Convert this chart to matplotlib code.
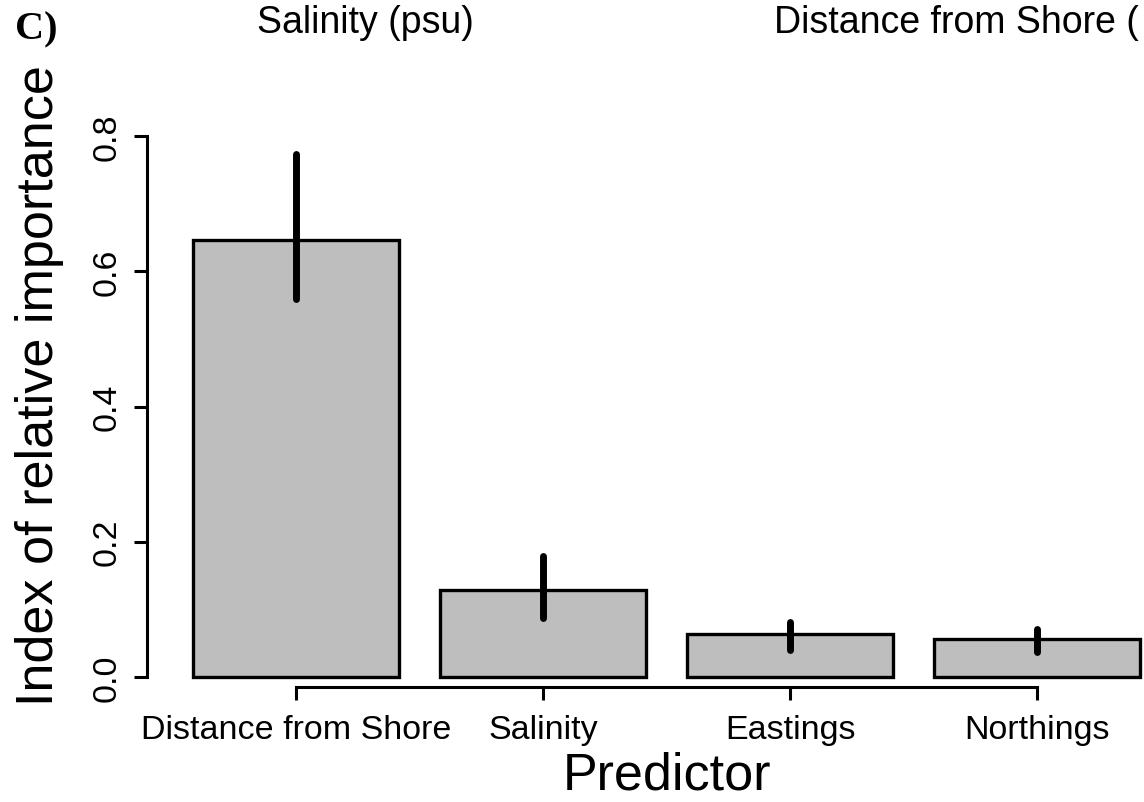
import matplotlib
matplotlib.use("Agg")
import matplotlib.pyplot as plt

predictors = ["Distance from Shore", "Salinity", "Eastings", "Northings"]
importance = [0.646, 0.129, 0.064, 0.056]
ci_low = [0.559, 0.087, 0.040, 0.037]
ci_high = [0.773, 0.179, 0.081, 0.071]
y_ticks = [0.0, 0.2, 0.4, 0.6, 0.8]
# second title is cropped at the right edge in the reference
top_titles = ["Salinity (psu)", "Distance from Shore ("]

W, H = 1144, 803
plt.rcParams["font.family"] = ["Liberation Sans", "DejaVu Sans"]

fig = plt.figure(figsize=(W / 100, H / 100), dpi=100)

# R barplot layout: width 1, space 0.2
centers = [0.7 + 1.2 * i for i in range(len(predictors))]
px_per_x = 247.0 / 1.2
x0_px = 296 - 0.7 * px_per_x
px_per_y = (678 - 137) / 0.8

xlim = (-0.0256, 5.0)
ylim = (-0.0148, 0.83)
left = (x0_px + xlim[0] * px_per_x) / W
right = (x0_px + xlim[1] * px_per_x) / W
bottom = (H - (678 - ylim[0] * px_per_y)) / H
top = (H - (678 - ylim[1] * px_per_y)) / H
ax = fig.add_axes([left, bottom, right - left, top - bottom])

ax.bar(centers, importance, width=1.0, color="#bebebe", edgecolor="black",
       linewidth=2.4, zorder=2)
for c, lo, hi in zip(centers, ci_low, ci_high):
    ax.plot([c, c], [lo, hi], color="black", linewidth=5.0,
            solid_capstyle="round", zorder=3)

ax.set_xlim(*xlim)
ax.set_ylim(*ylim)

ax.spines[["top", "right"]].set_visible(False)
ax.spines["left"].set_bounds(0, 0.8)
ax.spines["bottom"].set_bounds(centers[0], centers[-1])
for s in ("left", "bottom"):
    ax.spines[s].set_linewidth(2.2)

ax.set_yticks(y_ticks)
ax.set_yticklabels([f"{v:.1f}" for v in y_ticks], rotation=90, va="center")
ax.set_xticks(centers)
ax.set_xticklabels(predictors)
ax.tick_params(axis="both", length=9.5, width=2.2, labelsize=24.5)
ax.tick_params(axis="y", pad=8)
ax.tick_params(axis="x", pad=10)

fig.text(40 / W, 1 - 386 / H, "Index of relative importance", rotation=90,
         ha="center", va="center", fontsize=37.5)
fig.text(667 / W, 1 - 776 / H, "Predictor", ha="center", va="center",
         fontsize=37.5)

fig.text(257 / W, 1 - 23 / H, top_titles[0], ha="left", va="center",
         fontsize=27)
fig.text(774 / W, 1 - 23 / H, top_titles[1], ha="left", va="center",
         fontsize=27)
fig.text(15 / W, 1 - 30 / H, "C)", ha="left", va="center", fontsize=29,
         family=["Liberation Serif", "DejaVu Serif"], fontweight="bold")

fig.savefig("out.png", dpi=100, facecolor="white")
